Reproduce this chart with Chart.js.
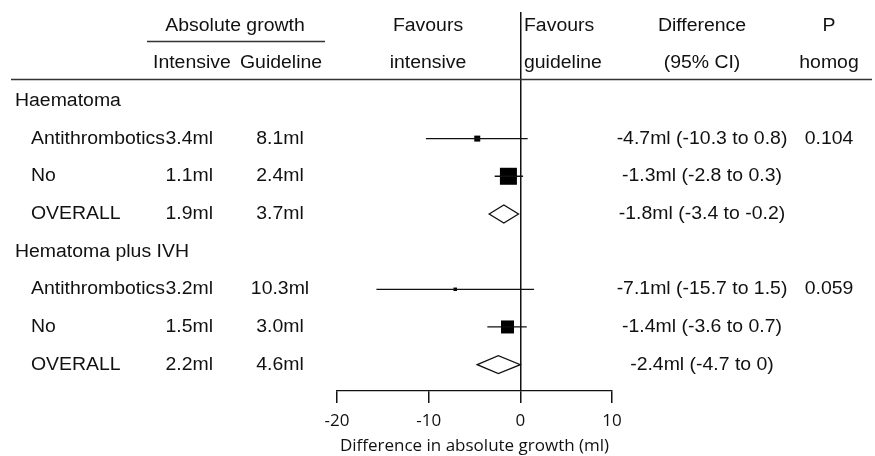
<!DOCTYPE html>
<html>
<head>
<meta charset="utf-8">
<script src="https://cdn.jsdelivr.net/npm/chart.js@4/dist/chart.umd.min.js"></script>
<style>
  html, body { margin: 0; padding: 0; background: #fff; }
  #wrap { width: 875px; height: 456px; }
</style>
</head>
<body>
<div id="wrap"><canvas id="forestChart"></canvas></div>
<script>
// rows of the table, top to bottom
const rowLabels = ['Haematoma', 'Antithrombotics', 'No', 'OVERALL', 'Hematoma plus IVH', 'Antithrombotics', 'No', 'OVERALL'];
const headingRows = [0, 4];
const overallRows = [3, 7];
const intensiveGrowth = [null, 3.4, 1.1, 1.9, null, 3.2, 1.5, 2.2];
const guidelineGrowth = [null, 8.1, 2.4, 3.7, null, 10.3, 3.0, 4.6];
const difference = [null, -4.7, -1.3, -1.8, null, -7.1, -1.4, -2.4];
const ciLower = [null, -10.3, -2.8, -3.4, null, -15.7, -3.6, -4.7];
const ciUpper = [null, 0.8, 0.3, -0.2, null, 1.5, 0.7, 0];
const pHomog = [null, '0.104', null, null, null, '0.059', null, null];
// share of total weight (%)
const weights = [null, 7.1, 57.1, null, null, 2.4, 33.4, null];
const xTicks = [-20, -10, 0, 10];
const xTitle = 'Difference in absolute growth (ml)';

const TEXT_FONT = '18px "Liberation Sans", Arial, sans-serif';
const TEXT_COLOR = '#111';

const studyRows = rowLabels.map((_, i) => i).filter(i => weights[i] != null);

// whiskers: one line dataset, segments broken with null points
const whiskers = [];
studyRows.forEach(i => {
  whiskers.push({ x: ciLower[i], y: i }, { x: ciUpper[i], y: i }, { x: null, y: null });
});
const boxes = studyRows.map(i => ({ x: difference[i], y: i }));
const boxRadius = studyRows.map(i => 22.5 * Math.sqrt(weights[i] / 100) / Math.SQRT2);

function txt(ctx, s, x, y, align) {
  ctx.save();
  ctx.translate(x, y);
  ctx.scale(1.08, 1);
  ctx.textAlign = align;
  ctx.textBaseline = 'middle';
  ctx.fillText(s, 0, 0);
  ctx.restore();
}

const tablePlugin = {
  id: 'forestTable',
  afterDatasetsDraw(chart) {
    const { ctx, scales: { x, y } } = chart;
    // diamonds for the pooled estimates
    ctx.save();
    ctx.lineWidth = 1.3;
    ctx.strokeStyle = '#111';
    ctx.fillStyle = '#fff';
    overallRows.forEach(i => {
      const py = y.getPixelForValue(i);
      const lo = x.getPixelForValue(ciLower[i]);
      const mid = x.getPixelForValue(difference[i]);
      const hi = x.getPixelForValue(ciUpper[i]);
      ctx.beginPath();
      ctx.moveTo(lo, py);
      ctx.lineTo(mid, py - 9);
      ctx.lineTo(hi, py);
      ctx.lineTo(mid, py + 9);
      ctx.closePath();
      ctx.fill();
      ctx.stroke();
    });
    ctx.restore();
  },
  afterDraw(chart) {
    const { ctx, scales: { y } } = chart;
    ctx.save();
    ctx.font = TEXT_FONT;
    ctx.fillStyle = TEXT_COLOR;

    const h1 = y.getPixelForValue(-2);
    const h2 = y.getPixelForValue(-1);
    txt(ctx, 'Absolute growth', 235, h1, 'center');
    txt(ctx, 'Intensive', 153, h2, 'left');
    txt(ctx, 'Guideline', 240, h2, 'left');
    txt(ctx, 'Favours', 428, h1, 'center');
    txt(ctx, 'intensive', 428, h2, 'center');
    txt(ctx, 'Favours', 524, h1, 'left');
    txt(ctx, 'guideline', 524, h2, 'left');
    txt(ctx, 'Difference', 702, h1, 'center');
    txt(ctx, '(95% CI)', 702, h2, 'center');
    txt(ctx, 'P', 829, h1, 'center');
    txt(ctx, 'homog', 829, h2, 'center');

    ctx.strokeStyle = '#333';
    ctx.lineWidth = 1.5;
    ctx.beginPath();
    ctx.moveTo(147, 41.5); ctx.lineTo(325, 41.5);
    ctx.moveTo(11, 79.5); ctx.lineTo(872, 79.5);
    ctx.stroke();

    rowLabels.forEach((label, i) => {
      const py = y.getPixelForValue(i);
      if (headingRows.includes(i)) {
        txt(ctx, label, 15, py, 'left');
        return;
      }
      txt(ctx, label, 31, py, 'left');
      txt(ctx, intensiveGrowth[i].toFixed(1) + 'ml', 213, py, 'right');
      txt(ctx, guidelineGrowth[i].toFixed(1) + 'ml', 280, py, 'center');
      txt(ctx, `${difference[i]}ml (${ciLower[i]} to ${ciUpper[i]})`, 702, py, 'center');
      if (pHomog[i]) txt(ctx, pHomog[i], 829, py, 'center');
    });
    ctx.restore();
  }
};

const ctx = document.getElementById('forestChart').getContext('2d');
new Chart(ctx, {
  type: 'scatter',
  data: {
    datasets: [
      {
        type: 'line',
        data: whiskers,
        borderColor: '#111',
        borderWidth: 1.3,
        pointRadius: 0,
        spanGaps: false,
        fill: false,
      },
      {
        data: boxes,
        pointStyle: 'rect',
        pointRadius: boxRadius,
        backgroundColor: '#000',
        borderWidth: 0,
      }
    ]
  },
  options: {
    responsive: true,
    maintainAspectRatio: false,
    animation: false,
    layout: { padding: { left: 337, right: 263, top: 7, bottom: 0 } },
    scales: {
      x: {
        type: 'linear',
        min: -20,
        max: 10,
        afterBuildTicks: scale => { scale.ticks = xTicks.map(v => ({ value: v })); },
        afterFit: scale => { scale.height = 65; },
        ticks: {
          color: '#111',
          padding: 8,
          font: { family: "'Open Sans', sans-serif", size: 17 },
        },
        grid: {
          color: c => (c.tick && c.tick.value === 0 ? '#111' : 'rgba(0,0,0,0)'),
          tickColor: '#111',
          lineWidth: 1.5,
          tickLength: 12,
        },
        border: { display: true, color: '#111', width: 1.3 },
        title: {
          display: true,
          text: xTitle,
          color: '#111',
          font: { family: "'Open Sans', sans-serif", size: 17 },
          padding: { top: 0, bottom: 0 },
        }
      },
      y: {
        type: 'linear',
        display: false,
        reverse: true,
        min: -2.36,
        max: 7.7,
      }
    },
    plugins: {
      legend: { display: false },
      tooltip: { enabled: false },
    }
  },
  plugins: [tablePlugin]
});
</script>
</body>
</html>
